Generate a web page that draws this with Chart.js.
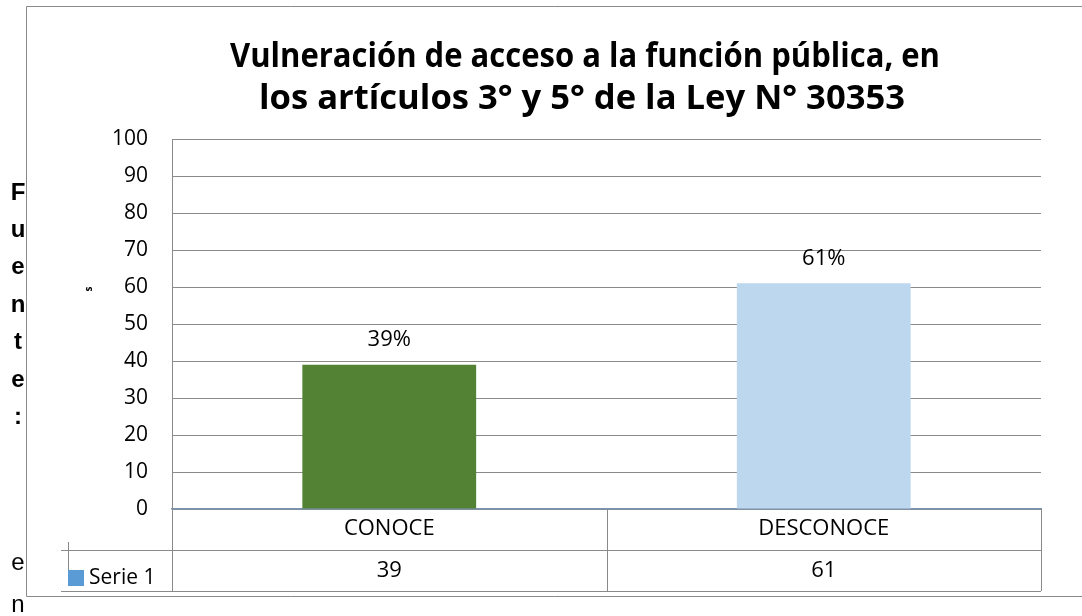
<!DOCTYPE html>
<html>
<head>
<meta charset="utf-8">
<script src="https://cdn.jsdelivr.net/npm/chart.js@4/dist/chart.umd.min.js"></script>
<style>
  html, body { margin: 0; padding: 0; background: #fff; }
  #wrap { width: 1082px; height: 616px; }
</style>
</head>
<body>
<div id="wrap"><canvas id="chart" width="1082" height="616"></canvas></div>
<script>
// DATA
const categories = ["CONOCE", "DESCONOCE"];
const serie1 = [39, 61];
const pctLabels = ["39%", "61%"];
const seriesName = "Serie 1";
const titleLines = ["Vulneración de acceso a la función pública, en", "los artículos 3° y 5° de la Ley N° 30353"];
const sideLetters = ["F", "u", "e", "n", "t", "e", ":"];
const sideTail = ["e", "n"];
const yMin = 0, yMax = 100, yStep = 10;

const FONT = '"Open Sans", "Liberation Sans", sans-serif';
const SIDE_FONT = '"Liberation Sans", Arial, sans-serif';
const GRID = "#8a8a8a";

// squeeze a line of text to a given width (the original title font is narrower)
function fitText(ctx, text, x, y, width) {
  const sx = width / ctx.measureText(text).width;
  ctx.save();
  ctx.translate(x, y);
  ctx.scale(sx, 1);
  ctx.fillText(text, 0, 0);
  ctx.restore();
}

// EXTRA DRAWING (title, labels, data table, side text)
const decor = {
  id: "decor",
  afterDraw(chart) {
    const ctx = chart.ctx;
    const area = chart.chartArea;
    const xs = chart.scales.x;
    const meta = chart.getDatasetMeta(0);
    ctx.save();

    // outer frame
    ctx.strokeStyle = GRID;
    ctx.lineWidth = 1;
    ctx.beginPath();
    ctx.moveTo(1090, 6.5);
    ctx.lineTo(26.5, 6.5);
    ctx.lineTo(26.5, 596.5);
    ctx.lineTo(1090, 596.5);
    ctx.stroke();

    // title
    ctx.fillStyle = "#000";
    ctx.textAlign = "center";
    ctx.textBaseline = "middle";
    ctx.font = "bold 34px " + FONT;
    fitText(ctx, titleLines[0], 585, 57, 710);
    fitText(ctx, titleLines[1], 582, 99, 646);

    // value labels above bars
    ctx.font = "22px " + FONT;
    meta.data.forEach((bar, i) => {
      ctx.fillText(pctLabels[i], bar.x, bar.y - 25);
    });

    // data table
    const rowH = 41;
    const top = area.bottom;
    const cols = [area.left];
    for (let i = 0; i < categories.length - 1; i++) {
      cols.push((xs.getPixelForValue(i) + xs.getPixelForValue(i + 1)) / 2);
    }
    cols.push(area.right);
    ctx.strokeStyle = GRID;
    ctx.lineWidth = 1;
    ctx.beginPath();
    cols.forEach(c => {
      const cx = Math.round(c) + 0.5;
      ctx.moveTo(cx, top);
      ctx.lineTo(cx, top + rowH * 2);
    });
    ctx.moveTo(61, Math.round(top + rowH) + 0.5);
    ctx.lineTo(area.right, Math.round(top + rowH) + 0.5);
    ctx.moveTo(61, Math.round(top + rowH * 2) + 0.5);
    ctx.lineTo(area.right, Math.round(top + rowH * 2) + 0.5);
    ctx.moveTo(68.5, top + 33);
    ctx.lineTo(68.5, top + 76);
    ctx.stroke();

    ctx.fillStyle = "#000";
    ctx.font = "22px " + FONT;
    categories.forEach((c, i) => {
      const cx = xs.getPixelForValue(i);
      ctx.fillText(c, cx, top + 20);
      ctx.fillText(String(serie1[i]), cx, top + rowH + 21);
    });

    // legend key in table
    ctx.fillStyle = "#5b9bd5";
    ctx.fillRect(68, top + 61, 16, 16);
    ctx.fillStyle = "#000";
    ctx.textAlign = "left";
    ctx.font = "21px " + FONT;
    ctx.fillText(seriesName, 89, top + 69);

    // stray axis title
    ctx.save();
    ctx.translate(89, 289);
    ctx.rotate(-Math.PI / 2);
    ctx.font = "bold 10px " + FONT;
    ctx.textAlign = "center";
    ctx.fillText("s", 0, 0);
    ctx.restore();

    // vertical "Fuente:" letters
    ctx.textAlign = "center";
    ctx.font = "bold 24px " + SIDE_FONT;
    sideLetters.forEach((l, i) => {
      ctx.fillText(l, 18, 193 + i * 37.4);
    });
    ctx.font = "24px " + SIDE_FONT;
    sideTail.forEach((l, i) => {
      ctx.fillText(l, 18, 563 + i * 42);
    });

    ctx.restore();
  }
};

function initChart() {
  const ctx = document.getElementById("chart");
  new Chart(ctx, {
    type: "bar",
    data: {
      labels: categories,
      datasets: [{
        label: seriesName,
        data: serie1,
        backgroundColor: ["#548235", "#bdd7ee"],
        borderWidth: 0,
        categoryPercentage: 1,
        barPercentage: 0.4
      }]
    },
    options: {
      responsive: false,
      animation: false,
      events: [],
      layout: { padding: { left: 0, top: 139, right: 41, bottom: 107 } },
      plugins: {
        legend: { display: false },
        title: { display: false },
        tooltip: { enabled: false }
      },
      scales: {
        x: {
          ticks: { display: false },
          grid: { display: false, drawTicks: false },
          border: { display: true, color: "#7894b4", width: 1.5 },
          afterFit(scale) { scale.height = 0; }
        },
        y: {
          min: yMin,
          max: yMax,
          ticks: {
            stepSize: yStep,
            padding: 24,
            color: "#000",
            font: { family: FONT, size: 21 }
          },
          grid: { color: GRID, drawTicks: false },
          border: { display: true, color: GRID, width: 1 },
          afterFit(scale) { scale.width = 172; }
        }
      }
    },
    plugins: [decor]
  });
}

window.onload = () => {
  initChart();
};
</script>
</body>
</html>
